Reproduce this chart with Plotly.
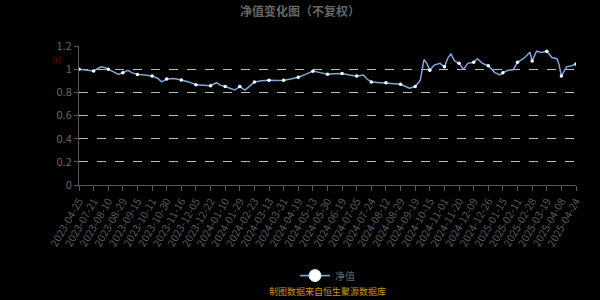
import plotly.graph_objects as go

# Tick labels (category positions 0..34)
tick_labels = [
    "2023-04-25", "2023-07-21", "2023-08-10", "2023-08-29", "2023-09-15",
    "2023-10-11", "2023-10-30", "2023-11-16", "2023-12-05", "2023-12-22",
    "2024-01-10", "2024-01-29", "2024-02-23", "2024-03-13", "2024-03-31",
    "2024-04-19", "2024-05-13", "2024-05-30", "2024-06-19", "2024-07-05",
    "2024-07-24", "2024-08-12", "2024-08-29", "2024-09-19", "2024-10-15",
    "2024-11-01", "2024-11-20", "2024-12-09", "2024-12-26", "2025-01-15",
    "2025-02-11", "2025-02-28", "2025-03-19", "2025-04-08", "2025-04-24",
]

# Position along the date axis (in label steps) and net value
pos = [0, 0.5, 1, 1.5, 1.75, 2, 2.4, 2.7, 3, 3.35, 3.6, 4, 4.5, 5, 5.4, 5.65,
       6, 6.5, 7, 7.5, 8, 8.5, 9, 9.4, 9.7, 10, 10.4, 10.65, 11, 11.35, 11.6,
       12, 12.5, 13, 13.5, 14, 14.5, 15, 15.5, 16, 16.5, 17, 17.5, 18, 18.5,
       19, 19.45, 19.7, 20, 20.5, 21, 21.5, 22, 22.6, 23, 23.35, 23.6, 23.8,
       24, 24.3, 24.7, 25, 25.25, 25.45, 25.7, 26, 26.3, 26.6, 27, 27.25, 27.6,
       28, 28.45, 28.8, 29, 29.35, 29.7, 30, 30.4, 30.85, 31, 31.3, 31.65, 32,
       32.35, 32.7, 32.85, 33, 33.35, 33.7, 34]
nav = [1.00, 0.99, 0.985, 1.02, 1.015, 1.00, 0.97, 0.955, 0.97, 0.99, 0.97,
       0.955, 0.95, 0.94, 0.92, 0.89, 0.915, 0.92, 0.907, 0.89, 0.865, 0.86,
       0.857, 0.883, 0.86, 0.85, 0.835, 0.82, 0.85, 0.82, 0.845, 0.89, 0.90,
       0.905, 0.903, 0.905, 0.915, 0.93, 0.955, 0.983, 0.97, 0.957, 0.96,
       0.963, 0.95, 0.94, 0.95, 0.915, 0.89, 0.885, 0.883, 0.875, 0.87, 0.835,
       0.85, 0.905, 1.083, 1.05, 0.99, 1.035, 1.05, 1.02, 1.10, 1.13, 1.07,
       1.05, 1.00, 1.05, 1.06, 1.09, 1.05, 1.03, 0.97, 0.95, 0.97, 0.99, 0.995,
       1.06, 1.09, 1.146, 1.07, 1.155, 1.145, 1.155, 1.10, 1.09, 1.035, 0.94,
       1.02, 1.03, 1.045]

series_name = "净值"
title_text = "净值变化图（不复权）"
y_unit = "元"
source_text = "制图数据来自恒生聚源数据库"

line_color = "#7fa7dc"
grey = "#666666"
font_family = "Noto Sans CJK SC, Noto Sans, sans-serif"

mk_x = [p for p in pos if float(p).is_integer()]
mk_y = [v for p, v in zip(pos, nav) if float(p).is_integer()]

fig = go.Figure()
fig.add_trace(go.Scatter(x=pos, y=nav, mode="lines",
                         line=dict(color=line_color, width=1.5),
                         showlegend=False, hoverinfo="skip"))
fig.add_trace(go.Scatter(x=mk_x, y=mk_y, mode="markers",
                         marker=dict(color="white", size=3.5, line=dict(width=0)),
                         showlegend=False))
fig.add_trace(go.Scatter(x=[None], y=[None], mode="lines+markers", name=series_name,
                         line=dict(color=line_color, width=1.6),
                         marker=dict(color="white", size=12,
                                     line=dict(color="#cfe0ff", width=1))))

fig.update_layout(
    width=600, height=300,
    paper_bgcolor="black", plot_bgcolor="black",
    margin=dict(l=79, r=24, t=45.5, b=114),
    font=dict(family=font_family, color=grey, size=11),
    title=dict(text="<b>" + title_text + "</b>", x=0.5, xanchor="center",
               y=1 - 12 / 300, yanchor="middle", yref="container",
               font=dict(size=12, color=grey, family=font_family)),
    xaxis=dict(range=[0, 34], tickmode="array", tickvals=list(range(len(tick_labels))),
               ticktext=tick_labels, tickangle=-60, showgrid=False,
               showline=True, linecolor="#555555", linewidth=1,
               ticks="outside", ticklen=5, tickcolor="#555555",
               tickfont=dict(size=10.5, color="#5a5a5a"), zeroline=False),
    yaxis=dict(range=[0, 1.2], tickvals=[0, 0.2, 0.4, 0.6, 0.8, 1.0, 1.2],
               ticktext=["0", "0.2", "0.4", "0.6", "0.8", "1", "1.2"],
               showgrid=True, gridcolor="#bbbbbb", griddash="dash", gridwidth=1,
               showline=True, linecolor="#555555", linewidth=1,
               ticks="outside", ticklen=4, tickcolor="#555555",
               tickfont=dict(size=11, color=grey), zeroline=False),
    legend=dict(orientation="h", x=0.5, xanchor="center", y=-0.64, yanchor="middle",
                font=dict(size=10, color=grey), bgcolor="rgba(0,0,0,0)"),
    annotations=[
        dict(text=y_unit, xref="paper", yref="paper", x=-22 / 497, y=1 - 15 / 140.5,
             xanchor="center", yanchor="middle",
             showarrow=False, textangle=-90, font=dict(size=9, color="#8b0000")),
        dict(text=source_text, xref="paper", yref="paper", x=0.5, y=-(294 - 186) / 140.5,
             xanchor="center", yanchor="middle", showarrow=False,
             font=dict(size=9, color="#c8961e")),
    ],
)

fig.write_html("out.html")
